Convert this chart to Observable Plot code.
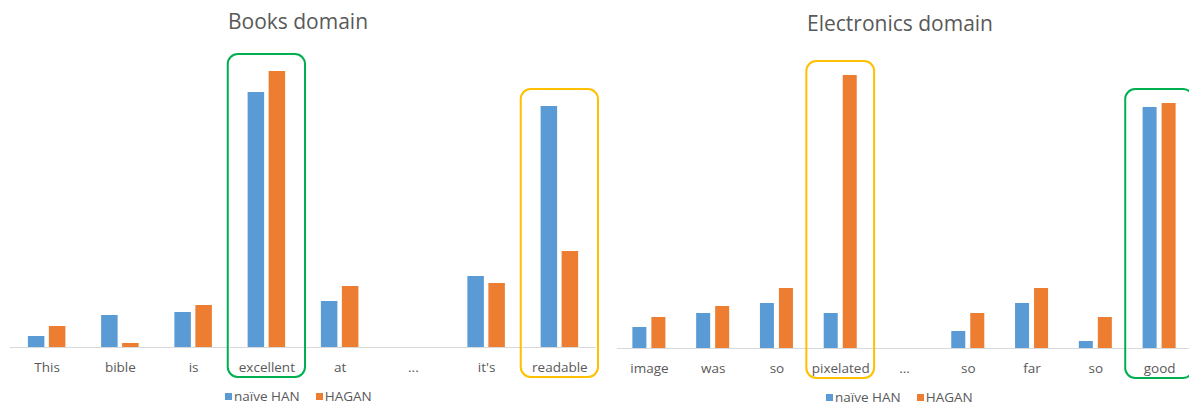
<!DOCTYPE html>
<html>
<head>
<meta charset="utf-8">
<script src="https://cdn.jsdelivr.net/npm/d3@7"></script>
<script src="https://cdn.jsdelivr.net/npm/@observablehq/plot@0.6"></script>
<style>
  html, body { margin: 0; padding: 0; background: #fff; }
  body { width: 1189px; height: 405px; position: relative; overflow: hidden; font-family: "Open Sans", sans-serif; color: #595959; }
  .title { position: absolute; font-size: 21px; line-height: 21px; text-align: center; color: #595959; white-space: nowrap; }
  .panel { position: absolute; top: 40px; width: 600px; }
  .panel svg { max-width: none !important; }
  .legend { position: absolute; display: flex; align-items: center; height: 14px; font-size: 13.5px; line-height: 14px; color: #595959; white-space: nowrap; }
  .sw { display: inline-block; width: 7px; height: 7px; margin-right: 2px; }
  .gap { display: inline-block; width: 16px; }
</style>
</head>
<body>
<div class="title" id="t1" style="left:0;width:596px;top:11px;">Books domain</div>
<div class="title" id="t2" style="left:600px;width:600px;top:13px;">Electronics domain</div>
<div class="panel" id="p1" style="left:0;"></div>
<div class="panel" id="p2" style="left:600px;"></div>
<div class="legend" id="l1" style="left:225px;top:389px;"></div>
<div class="legend" id="l2" style="left:826px;top:390px;"></div>
<script>
// ---- data ----
const series = ["naïve HAN", "HAGAN"];

const booksWords = ["This", "bible", "is", "excellent", "at", "...", "it's", "readable"];
const booksHAN   = [0.011, 0.032, 0.035, 0.255, 0.046, null, 0.071, 0.241];
const booksHAGAN = [0.021, 0.004, 0.042, 0.276, 0.061, null, 0.064, 0.096];
const booksMarked = [3, 7];
const booksMarkKind = ["shared", "specific"];

const elecWords = ["image", "was", "so", "pixelated", "...", "so", "far", "so", "good"];
const elecHAN   = [0.021, 0.035, 0.045, 0.035, null, 0.017, 0.045, 0.007, 0.241];
const elecHAGAN = [0.031, 0.042, 0.060, 0.273, null, 0.035, 0.060, 0.031, 0.245];
const elecMarked = [3, 8];
const elecMarkKind = ["specific", "shared"];

// ---- styles ----
const seriesColors = ["#5B9BD5", "#ED7D31"];
const kindColors = {shared: "#00B050", specific: "#FFC000"};

function panel({words, han, hagan, marked, kinds, width, height, marginLeft, marginRight, marginTop, pi, po, topPad}) {
  const rows = [];
  words.forEach((w, i) => {
    if (han[i] != null) rows.push({i, series: series[0], value: han[i]});
    if (hagan[i] != null) rows.push({i, series: series[1], value: hagan[i]});
  });
  const idx = d3.range(words.length);
  const boxes = marked.map((i, k) => ({i, kind: kinds[k], top: Math.max(han[i] ?? 0, hagan[i] ?? 0) + topPad}));
  const boxMarks = Object.keys(kindColors).map(kind =>
    Plot.rect(boxes.filter(b => b.kind === kind), {
      fx: "i", y1: () => -0.030, y2: "top",
      fill: "none", stroke: kindColors[kind], strokeWidth: 2,
      rx: 10, ry: 10, insetLeft: -2, insetRight: -2
    })
  );
  return Plot.plot({
    width, height, marginLeft, marginRight, marginTop, marginBottom: 40,
    style: {fontFamily: "Open Sans, sans-serif", fontSize: "13.5px", color: "#595959", background: "transparent", maxWidth: "none"},
    fx: {domain: idx, padding: 0, round: false, tickFormat: i => words[i], tickSize: 0, tickPadding: 15, label: null, axis: "bottom"},
    x: {domain: series, paddingInner: pi, paddingOuter: po, round: false, axis: null},
    y: {domain: [0, 0.3], axis: null},
    color: {domain: series, range: seriesColors},
    marks: [
      Plot.ruleY(idx, {fx: d => d, y: () => 0, stroke: "#D9D9D9", strokeWidth: 1}),
      Plot.barY(rows, {fx: "i", x: "series", y: "value", fill: "series"}),
      ...boxMarks
    ]
  });
}

document.getElementById("p1").append(panel({
  words: booksWords, han: booksHAN, hagan: booksHAGAN, marked: booksMarked, kinds: booksMarkKind,
  width: 600, height: 347, marginLeft: 10, marginRight: 4, marginTop: 7, pi: 0.214, po: 0.851, topPad: 0.017
}));
document.getElementById("p2").append(panel({
  words: elecWords, han: elecHAN, hagan: elecHAGAN, marked: elecMarked, kinds: elecMarkKind,
  width: 595, height: 348, marginLeft: 17, marginRight: 4, marginTop: 8, pi: 0.263, po: 0.809, topPad: 0.014
}));

function legend(id) {
  const el = document.getElementById(id);
  series.forEach((s, k) => {
    if (k > 0) { const g = document.createElement("span"); g.className = "gap"; el.append(g); }
    const sw = document.createElement("span"); sw.className = "sw"; sw.style.background = seriesColors[k];
    const t = document.createElement("span"); t.textContent = s;
    el.append(sw, t);
  });
}
legend("l1"); legend("l2");
</script>
</body>
</html>
